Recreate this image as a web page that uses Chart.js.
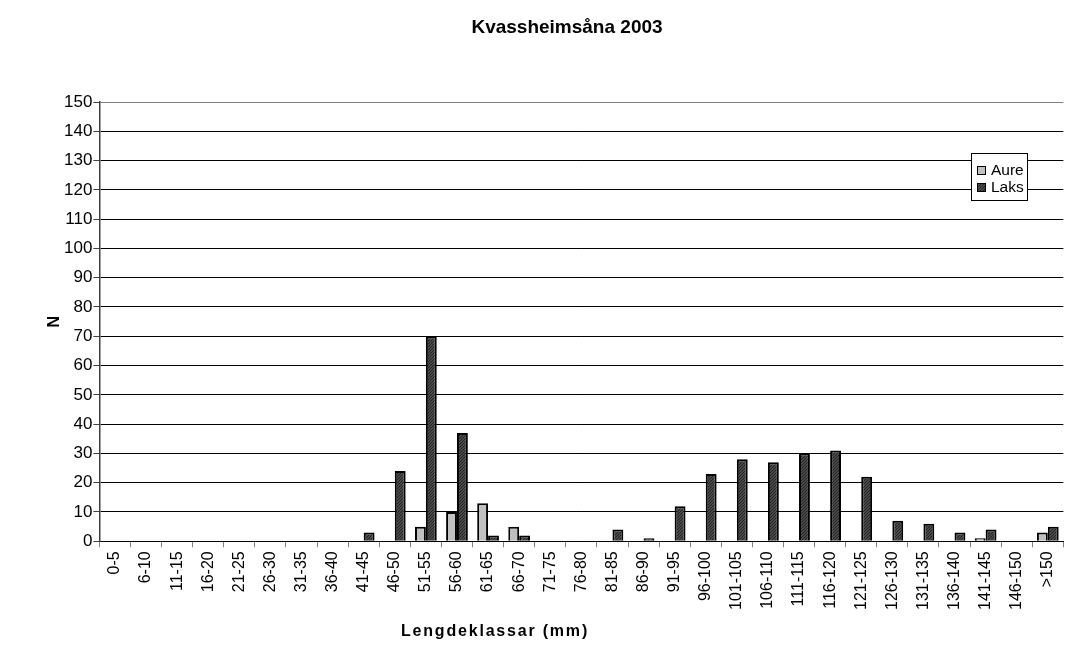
<!DOCTYPE html>
<html>
<head>
<meta charset="utf-8">
<script src="https://cdn.jsdelivr.net/npm/chart.js@4.4.0/dist/chart.umd.min.js"></script>
<style>
  html, body { margin: 0; padding: 0; background: #fff; }
  #wrap { width: 1071px; height: 671px; }
</style>
</head>
<body>
<div id="wrap"><canvas id="chart"></canvas></div>
<script>
const categories = ['0-5', '6-10', '11-15', '16-20', '21-25', '26-30', '31-35', '36-40', '41-45', '46-50',
  '51-55', '56-60', '61-65', '66-70', '71-75', '76-80', '81-85', '86-90', '91-95', '96-100',
  '101-105', '106-110', '111-115', '116-120', '121-125', '126-130', '131-135', '136-140', '141-145', '146-150', '>150'];
const aure = [0, 0, 0, 0, 0, 0, 0, 0, 0, 0, 5, 10, 13, 5, 0, 0, 0, 0, 0, 0, 0, 0, 0, 0, 0, 0, 0, 0, 1, 0, 3];
const laks = [0, 0, 0, 0, 0, 0, 0, 0, 3, 24, 70, 37, 2, 2, 0, 0, 4, 1, 12, 23, 28, 27, 30, 31, 22, 7, 6, 3, 4, 0, 5];
const yTicks = [0, 10, 20, 30, 40, 50, 60, 70, 80, 90, 100, 110, 120, 130, 140, 150];

const FONT = '"Liberation Sans", Arial, sans-serif';
const chartTitle = 'Kvassheimsåna 2003';
const xTitle = 'Lengdeklassar (mm)';

// dotted dark fill like the original
function makePattern() {
  const c = document.createElement('canvas');
  c.width = 3; c.height = 3;
  const g = c.getContext('2d');
  g.fillStyle = '#4a4a4a';
  g.fillRect(0, 0, 3, 3);
  g.fillStyle = '#222';
  g.fillRect(0, 0, 1, 1);
  g.fillRect(2, 1, 1, 1);
  g.fillRect(1, 2, 1, 1);
  return g.createPattern(c, 'repeat');
}
const laksFill = makePattern();

// titles (Excel puts them a bit off the plot centre) and the boxed legend
const extras = {
  id: 'extras',
  afterDraw(chart) {
    const ctx = chart.ctx;
    ctx.save();
    ctx.fillStyle = '#000';
    ctx.textAlign = 'center';
    ctx.textBaseline = 'middle';
    ctx.font = 'bold 19px ' + FONT;
    ctx.fillText(chartTitle, 567, 28);
    ctx.font = 'bold 16px ' + FONT;
    ctx.letterSpacing = '1.8px';
    ctx.fillText(xTitle, 495, 632);
    ctx.letterSpacing = '0px';

    const x = 971, y = 153, w = 56, h = 47;
    ctx.fillStyle = '#fff';
    ctx.fillRect(x, y, w, h);
    ctx.strokeStyle = '#000';
    ctx.lineWidth = 1;
    ctx.strokeRect(x + 0.5, y + 0.5, w, h);
    ctx.font = '15.5px ' + FONT;
    ctx.textAlign = 'left';
    chart.data.datasets.forEach((ds, i) => {
      const cy = y + 17 + i * 17;
      ctx.fillStyle = ds.backgroundColor;
      ctx.fillRect(x + 6, cy - 4, 9, 9);
      ctx.strokeStyle = '#000';
      ctx.strokeRect(x + 6.5, cy - 3.5, 8, 8);
      ctx.fillStyle = '#000';
      ctx.fillText(ds.label, x + 20, cy + 1);
    });
    ctx.restore();
  }
};

new Chart(document.getElementById('chart'), {
  type: 'bar',
  data: {
    labels: categories,
    datasets: [
      { label: 'Aure', data: aure, backgroundColor: '#c0c0c0', borderColor: '#000', borderWidth: 2 },
      { label: 'Laks', data: laks, backgroundColor: laksFill, borderColor: '#000', borderWidth: 2 }
    ]
  },
  options: {
    responsive: true,
    maintainAspectRatio: false,
    animation: false,
    layout: { padding: { left: 47, right: 0, top: 102, bottom: 57 } },
    datasets: { bar: { categoryPercentage: 0.7, barPercentage: 1 } },
    plugins: {
      legend: { display: false },
      tooltip: { enabled: false },
      title: { display: false }
    },
    scales: {
      x: {
        grid: { display: true, drawOnChartArea: false, drawTicks: true, tickLength: 6, color: '#808080', offset: true },
        border: { display: true, color: '#000' },
        ticks: {
          color: '#000', maxRotation: 90, minRotation: 90, autoSkip: false, padding: 4,
          font: { family: FONT, size: 16 }
        }
      },
      y: {
        min: 0, max: 150,
        afterBuildTicks: axis => { axis.ticks = yTicks.map(v => ({ value: v })); },
        grid: {
          color: c => (c.tick && c.tick.value === 150 ? '#808080' : '#000'),
          tickColor: '#404040', tickLength: 6, lineWidth: 1
        },
        border: { display: true, color: '#404040', width: 1.5 },
        ticks: {
          color: '#000', padding: 1,
          font: { family: FONT, size: 17 }
        },
        title: {
          display: true, text: 'N', color: '#000', padding: 0,
          font: { family: FONT, size: 16, weight: 'bold', lineHeight: 1 }
        }
      }
    }
  },
  plugins: [extras]
});
</script>
</body>
</html>
